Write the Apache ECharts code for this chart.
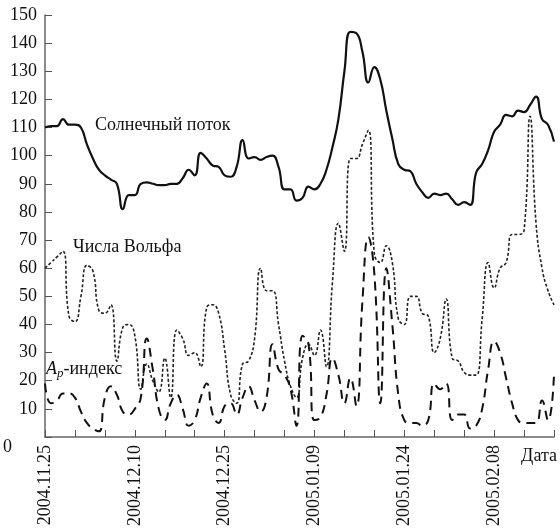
<!DOCTYPE html>
<html>
<head>
<meta charset="utf-8">
<script src="https://cdn.jsdelivr.net/npm/echarts@6/dist/echarts.min.js"></script>
<style>
html,body{margin:0;padding:0;background:#fff;}
#chart{width:560px;height:529px;}
</style>
</head>
<body>
<div id="chart"></div>
<script>
// Daily categories from 2004.11.25 (86 days)
const startDate = [2004, 10, 25];
const dayCount = 86;
const categories = [];
for (let i = 0; i < dayCount; i++) {
  const dt = new Date(Date.UTC(startDate[0], startDate[1], startDate[2] + i));
  const p = n => (n < 10 ? '0' : '') + n;
  categories.push(dt.getUTCFullYear() + '.' + p(dt.getUTCMonth() + 1) + '.' + p(dt.getUTCDate()));
}

// Solar radio flux (solid)
const solarFlux = [110,110.5,110.5,113,111,111,110,104,99,95,
  93,91.5,90,81,86,86,90,90.5,90,89.5,
  89.5,90,90,92,95,93,101,99,96.5,96,
  93,92.5,96,105.5,99,99.5,98.5,99.5,100,96,
  88,88,84,85,89,88,90,95,103,113,
  130,144,143.5,137,126,131.5,127,116,106,97,
  95,94.5,90,87,85,86.5,86,86.5,84.5,82.5,
  83.5,82.5,94,97,102,108.5,111,114.5,114,116,
  115.5,118,121,113,111,105];

// Wolf numbers (short dashes)
const wolfNumbers = [60,62,64,66,43,41,50,61,59,45,
  44,47,27,39,40,36,17,26,20,16,
  28,14,38,35,29,30,25,46,47,44,
  31,15,12,26,27,35,60,52,52,40,
  27,18,14,28,33,29,38,25,55,76,
  66,99,99,104,109,65,62,68,62,42,
  40,50,50,44,43,30,35,49,28,27,
  23,22,22,42,62,53,60,62,72,72,
  73.5,114,76,60,52,47];

// Ap index (long dashes)
const apIndex = [19,12,13,15.5,15.5,14,9,5,3,2,
  14,18,15,9,8,10,14,35,24,10,
  6,12,15,10,4,6,14,19,8,5,
  11,12,8,14,18,13,9,14,33,24,
  22,17,4,36,33,6,7,15,28,22,
  12,21,11,48,71,58,12,60,40,15,
  6,5,5,4,6,19,17,19,6,8,
  8,3,4,10,24,34,30,21,12,6,
  5,5,5,13,6,22];

const yTicks = [0,10,20,30,40,50,60,70,80,90,100,110,120,130,140,150];

const serif = '"Liberation Serif","DejaVu Serif",serif';
const fs = 18;
const chart = echarts.init(document.getElementById('chart'));
chart.setOption({
  animation: false,
  backgroundColor: '#fff',
  grid: {left: 43, right: 5, top: 15, bottom: 92, containLabel: false},
  xAxis: {
    type: 'category',
    data: categories,
    boundaryGap: false,
    name: 'Дата',
    nameLocation: 'end',
    nameGap: 3,
    nameTextStyle: {fontFamily: serif, fontSize: fs, color: '#111', align: 'right', verticalAlign: 'top', padding: [10, 0, 0, 0]},
    axisLine: {lineStyle: {color: '#666', width: 1.5}},
    axisTick: {inside: true, interval: 4, length: 7, lineStyle: {color: '#555', width: 1}},
    axisLabel: {interval: 14, rotate: 90, fontFamily: serif, fontSize: fs, color: '#111', margin: 8},
    splitLine: {show: false}
  },
  yAxis: {
    type: 'value',
    min: yTicks[0],
    max: yTicks[yTicks.length - 1],
    interval: 10,
    axisLine: {show: true, lineStyle: {color: '#666', width: 1.5}},
    axisTick: {show: true, inside: true, length: 7, lineStyle: {color: '#555', width: 1}},
    axisLabel: {
      fontFamily: serif, fontSize: fs, color: '#111', margin: 8,
      formatter: v => v === 0 ? '{z|0}' : String(v),
      rich: {z: {fontFamily: serif, fontSize: fs, color: '#111', padding: [20, 25, 0, 0]}}
    },
    splitLine: {show: false}
  },
  series: [
    {name: 'Солнечный поток', type: 'line', data: solarFlux, smooth: 0.5, symbol: 'none',
      lineStyle: {color: '#111', width: 2.2}},
    {name: 'Числа Вольфа', type: 'line', data: wolfNumbers, smooth: 0.5, symbol: 'none',
      lineStyle: {color: '#222', width: 1.6, type: [3, 2]}},
    {name: 'Ap-индекс', type: 'line', data: apIndex, smooth: 0.5, symbol: 'none',
      lineStyle: {color: '#111', width: 2, type: [9, 6]}}
  ],
  graphic: [
    {type: 'text', left: 95, top: 116, style: {text: 'Солнечный поток', font: fs + 'px ' + serif, fill: '#111'}},
    {type: 'text', left: 73, top: 238, style: {text: 'Числа Вольфа', font: fs + 'px ' + serif, fill: '#111'}},
    {type: 'text', left: 46, top: 360, style: {
      text: '{a|A}{p|p}{b|-индекс}',
      rich: {
        a: {fontFamily: serif, fontSize: fs, fontStyle: 'italic', fill: '#111'},
        p: {fontFamily: serif, fontSize: 13, fontStyle: 'italic', fill: '#111', padding: [10, 0, 0, 0]},
        b: {fontFamily: serif, fontSize: fs, fill: '#111'}
      }
    }}
  ]
});
</script>
</body>
</html>
